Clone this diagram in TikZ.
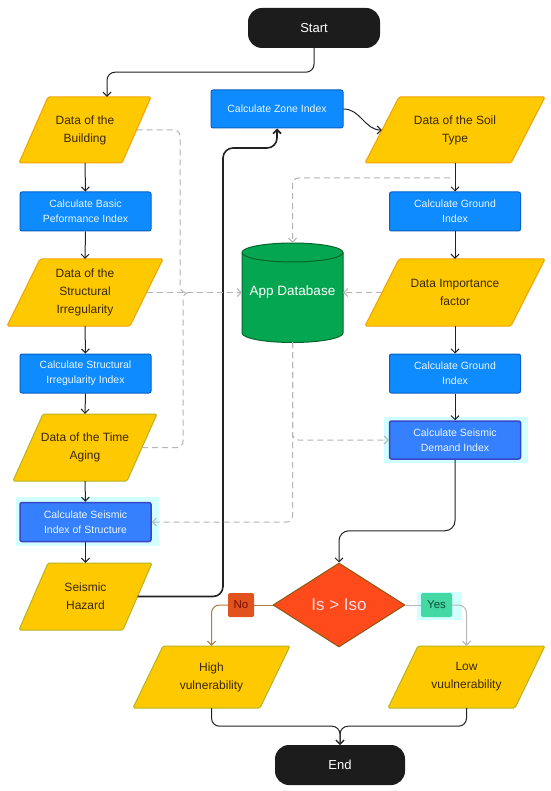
\documentclass[tikz,border=0pt]{standalone}
\usepackage{fontspec}
\setmainfont{Liberation Sans}
\usetikzlibrary{arrows.meta,shapes.geometric,calc}
\definecolor{termblack}{HTML}{1C1C1C}
\definecolor{bfill}{HTML}{0D8BFF}
\definecolor{bborder}{HTML}{0A5FC0}
\definecolor{btext}{HTML}{EAF5FF}
\definecolor{sfill}{HTML}{3580FF}
\definecolor{sborder}{HTML}{3A45C8}
\definecolor{halo}{HTML}{D2FFFF}
\definecolor{yfill}{HTML}{FFC900}
\definecolor{yborder}{HTML}{F2A200}
\definecolor{ygborder}{HTML}{B5B41E}
\definecolor{ytext}{HTML}{3A2800}
\definecolor{dbfill}{HTML}{04A651}
\definecolor{dbborder}{HTML}{05652C}
\definecolor{diafill}{HTML}{FF4A1C}
\definecolor{diaborder}{HTML}{8A5A10}
\definecolor{diatext}{HTML}{FFDDE4}
\definecolor{nofill}{HTML}{E2521E}
\definecolor{notext}{HTML}{7A0D00}
\definecolor{yesfill}{HTML}{44D8A4}
\definecolor{yestext}{HTML}{0B4D2E}
\definecolor{noline}{HTML}{B07A40}
\definecolor{yesline}{HTML}{B8B8B8}
\definecolor{dashc}{HTML}{B5B5B5}
\definecolor{linec}{HTML}{222222}
\tikzset{
  term/.style={rectangle, fill=termblack, rounded corners=14pt, minimum width=132pt, minimum height=40pt, inner sep=0pt, text=white, font=\fontsize{13}{15}\selectfont},
  bbox/.style={rectangle, draw=bborder, fill=bfill, line width=1pt, rounded corners=2pt, minimum width=131pt, minimum height=39pt, inner sep=0pt, text=btext, align=center, font=\fontsize{10.5}{15}\selectfont},
  sbox/.style={bbox, draw=sborder, fill=sfill, line width=1.5pt},
  ptext/.style={rectangle, inner sep=0pt, align=center, text=ytext, font=\fontsize{12}{18}\selectfont},
  lab/.style={rectangle, rounded corners=1.5pt, minimum width=26pt, minimum height=24pt, inner sep=0pt, font=\fontsize{11.5}{13}\selectfont},
  arr/.style={draw=linec, line width=1pt, -{Straight Barb[length=4pt,width=8pt]}},
  dline/.style={draw=dashc, line width=1pt, dash pattern=on 6pt off 4pt, rounded corners=6pt},
  darr/.style={dline, -{Straight Barb[length=4pt,width=8pt]}},
}
\newcommand{\pgram}[8]{%
  \filldraw[fill=yfill, draw=#7, line width=1pt, rounded corners=1.5pt]
    ({#2-#4/2},{#3+#5/2}) -- ({#2-#4/2+#6},{#3-#5/2}) -- ({#2+#4/2},{#3-#5/2}) -- ({#2+#4/2-#6},{#3+#5/2}) -- cycle;
  \node[ptext, minimum width={#4-#6}, minimum height=#5] (#1) at (#2,#3) {#8};}
\begin{document}
\begin{tikzpicture}[x=1pt,y=-1pt]
\useasboundingbox (0,0) rectangle (550,791);
\fill[white] (0,0) rectangle (550,791);
% halos
\fill[halo] (16,497) rectangle (159,546);
\fill[halo] (384,417) rectangle (528,463);
\fill[halo] (417,592) rectangle (462,620);
% terminals
\node[term] (start) at (314,28) {Start};
\node[term, minimum width=130pt] (end) at (340,765) {End};
% left column
\pgram{bld}{85}{130}{132}{66}{29}{yborder}{Data of the\\Building}
\node[bbox] (basic) at (85.5,211.5) {Calculate Basic\\Peformance Index};
\pgram{sirr}{85}{292.5}{156}{67}{33}{yborder}{Data of the\\Structural\\Irregularity}
\node[bbox] (sii) at (85.5,373.5) {Calculate Structural\\Irregularity Index};
\pgram{aging}{85}{447.5}{144}{67}{30}{ygborder}{Data of the Time\\Aging}
\node[sbox] (sis) at (85.5,522) {Calculate Seismic\\Index of Structure};
\pgram{haz}{85.5}{596.5}{133}{67}{29}{ygborder}{Seismic\\Hazard}
% middle
\node[bbox, minimum width=132pt, minimum height=38pt] (zone) at (277,109) {Calculate Zone Index};
% database cylinder
\filldraw[fill=dbfill, draw=dbborder, line width=1pt]
  (242,252.5) -- (242,333) arc[start angle=180, end angle=0, x radius=50.5, y radius=9.5]
  -- (343,252.5) arc[start angle=0, end angle=-180, x radius=50.5, y radius=9.5] -- cycle;
\draw[draw=dbborder, line width=1pt] (242,252.5) arc[start angle=180, end angle=0, x radius=50.5, y radius=9.5];
\node[rectangle, minimum width=101pt, minimum height=99pt, inner sep=0pt, text=white, font=\fontsize{13.5}{16}\selectfont] (db) at (292.5,292.5) {App Database};
% right column
\pgram{soil}{455}{130}{180}{66}{34}{yborder}{Data of the Soil\\Type}
\node[bbox] (g1) at (455,211.5) {Calculate Ground\\Index};
\pgram{imp}{455}{292.5}{180}{67}{34}{yborder}{Data Importance\\factor}
\node[bbox] (g2) at (455,373.5) {Calculate Ground\\Index};
\node[sbox, minimum height=38pt] (dem) at (455,440) {Calculate Seismic\\Demand Index};
% decision
\node[diamond, fill=diafill, draw=diaborder, line width=1pt, minimum width=132pt, minimum height=84pt, inner sep=0pt, aspect=1.57, text=diatext, font=\fontsize{17}{20}\selectfont] (dia) at (339,605) {Is > Iso};
\node[lab, fill=nofill, text=notext] (no) at (241,605) {No};
\node[lab, fill=yesfill, text=yestext, minimum width=31pt] (yes) at (436.5,605) {Yes};
\pgram{high}{211.5}{677}{157}{62}{30}{ygborder}{High\\vulnerability}
\pgram{low}{466.5}{677}{157}{62}{30}{ygborder}{Low\\vuulnerability}
% solid connectors
\draw[arr, rounded corners=8pt] (start.south) -- ++(0,24) -| ([xshift=22pt]bld.north);
\draw[arr] (bld.south) -- (basic.north);
\draw[arr] (basic.south) -- (sirr.north);
\draw[arr] (sirr.south) -- (sii.north);
\draw[arr] (sii.south) -- (aging.north);
\draw[arr] (aging.south) -- (sis.north);
\draw[arr] (sis.south) -- (haz.north);
\draw[arr, line width=1.6pt, rounded corners=10pt] (haz.east) -| (223,148) -| (zone.south);
\draw[arr] (zone.east) to[out=0, in=180] (soil.west);
\draw[arr] (soil.south) -- (g1.north);
\draw[arr] (g1.south) -- (imp.north);
\draw[arr] (imp.south) -- (g2.north);
\draw[arr] (g2.south) -- (dem.north);
\draw[arr, rounded corners=10pt] (dem.south) -- ++(0,71) -| (dia.north);
\draw[draw=noline, line width=1pt] (dia.west) -- (no.east);
\draw[draw=noline, line width=1pt, rounded corners=8pt, -{Straight Barb[length=4pt,width=8pt]}] (no.west) -| (high.north);
\draw[draw=yesline, line width=1pt] (dia.east) -- (yes.west);
\draw[draw=yesline, line width=1pt, rounded corners=8pt, -{Straight Barb[length=4pt,width=8pt]}] (yes.east) -| (low.north);
\draw[arr, rounded corners=8pt] (high.south) -- ++(0,18) -| (end.north);
\draw[arr, rounded corners=8pt] (low.south) -- ++(0,18) -| (end.north);
% dashed connectors
\coordinate (soilbr) at (450,178);
\draw[dline] (bld.east) -| (180,292.5) -- (188,292.5);
\draw[dline] (aging.east) -| (183,292.5) -- (190,292.5);
\draw[darr] (sirr.east) -- (db.west);
\draw[darr] (soilbr) -| (db.north);
\draw[darr] (imp.west) -- (db.east);
\draw[darr] (db.south) |- (dem.west);
\draw[darr] (db.south) |- (sis.east);
\end{tikzpicture}
\end{document}
